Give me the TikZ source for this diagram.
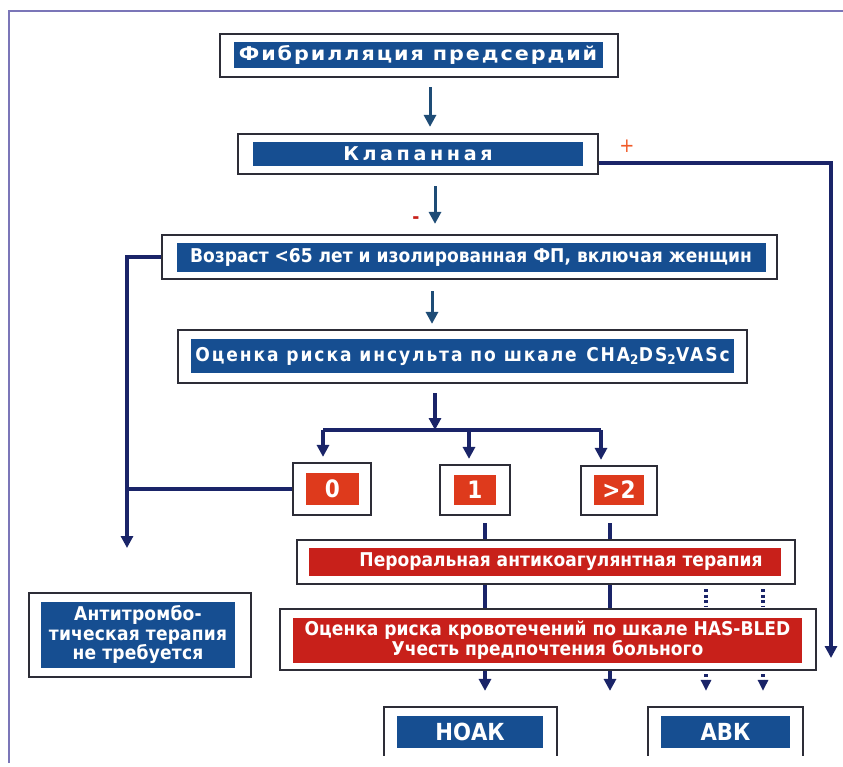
\documentclass[tikz,border=0pt]{standalone}
\usepackage{fontspec}
\setmainfont{DejaVu Sans}[FakeStretch=0.9]
\usetikzlibrary{arrows.meta}
\definecolor{boxblue}{RGB}{22,78,145}
\definecolor{boxred}{RGB}{200,32,26}
\definecolor{boxorange}{RGB}{222,58,28}
\definecolor{framegray}{RGB}{45,45,55}
\definecolor{linenavy}{RGB}{26,36,104}
\definecolor{arrowteal}{RGB}{30,76,118}
\definecolor{borderviolet}{RGB}{123,118,184}
\definecolor{plusorange}{RGB}{240,90,40}
\begin{document}
\begin{tikzpicture}[x=1pt,y=-1pt,
    frame/.style 2 args={draw=framegray,line width=2.2pt,fill=white,inner sep=0pt,minimum width=#1pt,minimum height=#2pt},
    bluefill/.style 2 args={fill=boxblue,text=white,inner sep=0pt,align=center,font=\bfseries\fontsize{19}{19}\selectfont,minimum width=#1pt,minimum height=#2pt},
    redfill/.style 2 args={bluefill={#1}{#2},fill=boxred},
    spaced/.style={font=\bfseries\fontsize{19}{19}\selectfont\addfontfeature{LetterSpace=#1}},
    digit/.style={fill=boxorange,font=\bfseries\fontsize{24}{24}\selectfont},
    flow/.style={draw=linenavy,line width=3.4pt},
    headed/.style={-{Triangle[width=12pt,length=12pt]}}]
  \useasboundingbox (0,0) rectangle (843,767);
  \draw[borderviolet,line width=2pt] (9,763) -- (9,11) -- (843,11);

  % boxes, top to bottom
  \node[frame={398}{43}] (fib) at (419,55.5) {};
  \node[bluefill={369}{26},spaced=8.5] (fibt) at (418,55) {\scalebox{1.21}[1]{Фибрилляция предсердий}};
  \node[frame={360}{40}] (klap) at (418,154) {};
  \node[bluefill={330}{24},spaced=17] (klapt) at (418,154) {\scalebox{1.12}[1]{Клапанная}};
  \node[frame={615}{44}] (age) at (469.5,257) {};
  \node[bluefill={589}{29}] (aget) at (471,257.5) {Возраст <65 лет и изолированная ФП, включая женщин};
  \node[frame={569}{53}] (cha) at (462.5,356.5) {};
  \node[bluefill={543}{34},spaced=10] (chat) at (462.5,356) {Оценка риска инсульта по шкале\enspace CHA\textsubscript{2}DS\textsubscript{2}VASc};

  \node[frame={78}{52}] (zero) at (332,489) {};
  \node[bluefill={53}{32},digit] (zerot) at (332.5,489) {0};
  \node[frame={70}{50}] (one) at (475,490) {};
  \node[bluefill={42}{30},digit] (onet) at (475,490) {1};
  \node[frame={76}{49}] (two) at (619,490.5) {};
  \node[bluefill={50}{30},digit] (twot) at (619,490) {>2};

  \node[frame={498}{44}] (oral) at (546,562) {};
  \node[redfill={472}{28}] (oralt) at (545,562) {\hspace*{32pt}Пероральная антикоагулянтная терапия};
  \node[frame={536}{61}] (bleed) at (548,639.5) {};
  \node[redfill={509}{45}] (bleedt) at (547.5,640) {Оценка риска кровотечений по шкале HAS-BLED\\Учесть предпочтения больного};
  \node[frame={222}{84}] (none) at (140,635) {};
  \node[bluefill={194}{66},font=\bfseries\fontsize{19}{19.5}\selectfont\addfontfeature{LetterSpace=1}] (nonet) at (138,635) {Антитромбо-\\тическая терапия\\не требуется};

  \begin{scope}
    \clip (0,0) rectangle (843,755);
    \node[frame={173}{70}] (noak) at (470.5,742) {};
    \node[bluefill={146}{32},font=\bfseries\fontsize{23.5}{24}\selectfont] (noakt) at (470,732) {НОАК};
    \node[frame={155}{70}] (avk) at (725.5,742) {};
    \node[bluefill={129}{32},font=\bfseries\fontsize{23.5}{24}\selectfont] (avkt) at (725.5,732) {АВК};
  \end{scope}

  \node[text=plusorange,font=\fontsize{20}{20}\selectfont] (plus) at (627,146) {+};
  \node[text=boxred,font=\bfseries\fontsize{19}{19}\selectfont] (minus) at (416,220) {-};

  % columns for the vertical connectors
  \coordinate (xa) at (430,0);
  \coordinate (xb) at (435,0);
  \coordinate (xc) at (432,0);
  \coordinate (xp) at (485,0);
  \coordinate (xq) at (610,0);
  \coordinate (xr) at (706,0);
  \coordinate (xs) at (763,0);
  \coordinate (bl) at (323,430);
  \coordinate (bm) at (469,430);
  \coordinate (br) at (601,430);
  \coordinate (lb) at (127,548);
  \coordinate (rb) at (831,658);

  \draw[arrowteal,line width=3pt,headed,shorten <=9pt,shorten >=6pt] (fib.south -| xa) -- (klap.north -| xa);
  \draw[arrowteal,line width=3pt,headed,shorten <=11pt,shorten >=10pt] (klap.south -| xb) -- (age.north -| xb);
  \draw[arrowteal,line width=3pt,headed,shorten <=11pt,shorten >=5pt] (age.south -| xc) -- (cha.north -| xc);
  \draw[flow,headed,shorten <=9pt] (cha.south -| xb) -- (bl -| xb);
  \draw[flow,line width=4pt] (bl) -- (br);
  \draw[flow,headed,shorten >=5pt] (bl) -- (bl |- zero.north);
  \draw[flow,headed,shorten >=5pt] (bm) -- (bm |- one.north);
  \draw[flow,headed,shorten >=5pt] (br) -- (br |- two.north);

  \draw[flow,headed] (age.west) -| (lb);
  \draw[flow] (zero.west) -- (zero.west -| lb);
  \draw[flow,headed] ([yshift=-9pt]klap.east) -| (rb);

  \draw[flow,shorten <=7pt] (one.south -| xp) -- (oral.north -| xp);
  \draw[flow,shorten <=7pt] (two.south -| xq) -- (oral.north -| xq);
  \draw[flow] (oral.south -| xp) -- (bleed.north -| xp);
  \draw[flow] (oral.south -| xq) -- (bleed.north -| xq);
  \draw[flow,dash pattern=on 3pt off 2.5pt,shorten <=4pt,shorten >=2pt] (oral.south -| xr) -- (bleed.north -| xr);
  \draw[flow,dash pattern=on 3pt off 2.5pt,shorten <=4pt,shorten >=2pt] (oral.south -| xs) -- (bleed.north -| xs);
  \draw[flow,headed,shorten >=15pt] (bleed.south -| xp) -- (noak.north -| xp);
  \draw[flow,headed,shorten >=15pt] (bleed.south -| xq) -- (noak.north -| xq);
  \draw[flow,dash pattern=on 3pt off 2.5pt,-{Triangle[width=10pt,length=11pt]},shorten <=3pt,shorten >=15pt] (bleed.south -| xr) -- (avk.north -| xr);
  \draw[flow,dash pattern=on 3pt off 2.5pt,-{Triangle[width=10pt,length=11pt]},shorten <=3pt,shorten >=15pt] (bleed.south -| xs) -- (avk.north -| xs);
\end{tikzpicture}
\end{document}
